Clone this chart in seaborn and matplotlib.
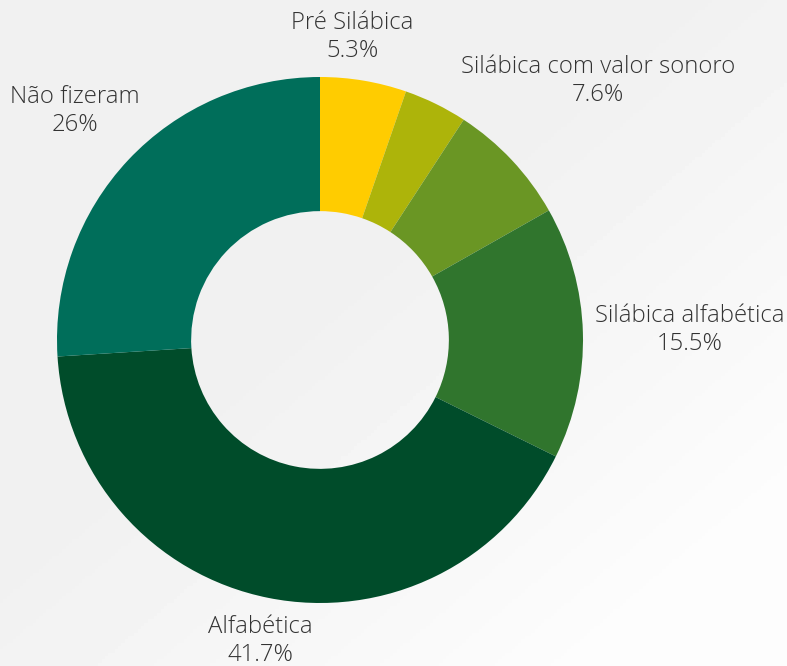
import numpy as np
import matplotlib
matplotlib.use("Agg")
import matplotlib.pyplot as plt
import seaborn as sns

# data
categorias = ["Pré Silábica", "Silábica sem valor sonoro", "Silábica com valor sonoro",
              "Silábica alfabética", "Alfabética", "Não fizeram"]
percentuais = [5.3, 3.9, 7.6, 15.5, 41.7, 26.0]
rotulos = ["Pré Silábica\n5.3%", "", "Silábica com valor sonoro\n7.6%",
           "Silábica alfabética\n15.5%", "Alfabética\n41.7%", "Não fizeram\n26%"]
cores = ["#FFCC00", "#ADB40A", "#6A9624", "#30752D", "#004C2A", "#006E5A"]

# label anchors (in units of outer radius)
pos_rotulos = [(0.122, 1.152), None, (1.057, 0.985), (1.407, 0.038),
               (-0.228, -1.144), (-0.932, 0.871)]

sns.set_theme(style="white")
plt.rcParams["font.family"] = ["Open Sans", "DejaVu Sans"]
paleta = sns.color_palette(cores)

fig = plt.figure(figsize=(7.87, 6.66), dpi=100)

# light grey background with soft diagonal highlight
bg = fig.add_axes([0, 0, 1, 1])
yy, xx = np.mgrid[0:1:200j, 0:1:240j]
grad = 0.945 + 0.045 * np.clip((xx + yy - 0.9) * 1.2, 0, 1)
bg.imshow(grad, cmap="gray", vmin=0, vmax=1, aspect="auto", extent=[0, 1, 0, 1])
bg.axis("off")

ax = fig.add_axes([57 / 787, 63 / 666, 526 / 787, 526 / 666])
ax.pie(percentuais, colors=paleta, startangle=90, counterclock=False,
       radius=1.0, wedgeprops=dict(width=0.51, edgecolor="none"))
ax.set_xlim(-1, 1)
ax.set_ylim(-1, 1)
ax.set_aspect("equal")
ax.axis("off")

for txt, p in zip(rotulos, pos_rotulos):
    if p is None or not txt:
        continue
    ax.text(p[0], p[1], txt, ha="center", va="center", multialignment="center",
            fontsize=17.2, fontweight="light", color="#333333", linespacing=1.22,
            clip_on=False)

fig.savefig("out.png", dpi=100)
